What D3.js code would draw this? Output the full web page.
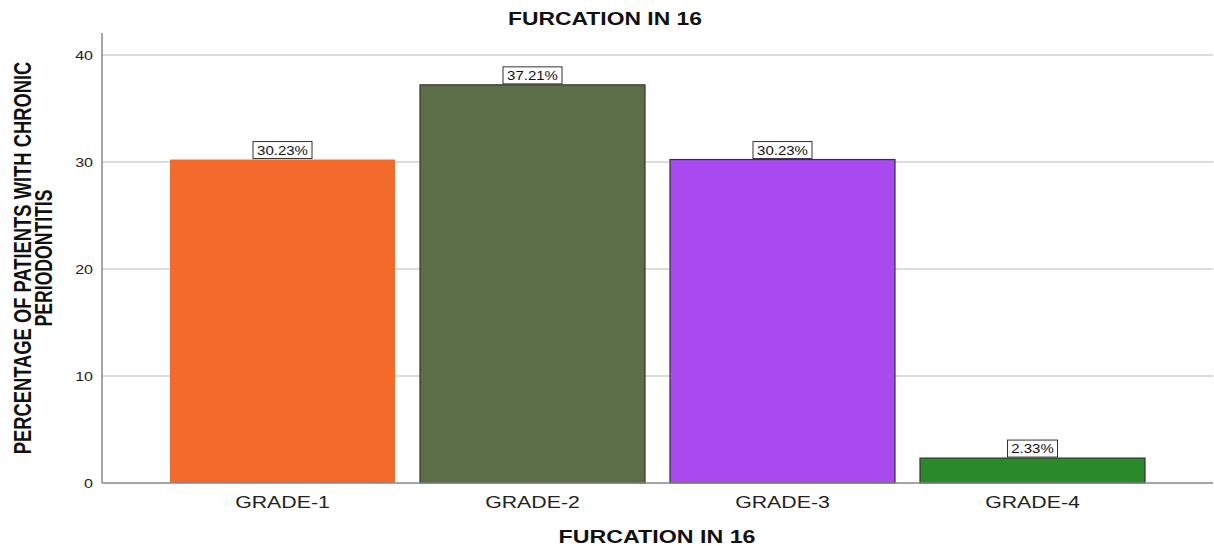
<!DOCTYPE html>
<html><head><meta charset="utf-8">
<script src="https://cdn.jsdelivr.net/npm/d3@7"></script>
<style>body{margin:0;background:#fff}svg{display:block}text{font-family:"Liberation Sans",Arial,sans-serif}</style>
</head><body>
<svg id="c" width="1214" height="546"></svg>
<script>
const categories = ["GRADE-1","GRADE-2","GRADE-3","GRADE-4"];
const values = [30.23, 37.21, 30.23, 2.33];
const labels = ["30.23%","37.21%","30.23%","2.33%"];
const colors = ["#F26A2C","#5B6E48","#A94AF0","#2A8A2A"];
const strokes = ["none","#333","#333","#333"];
const yTicks = [0,10,20,30,40];
const title = "FURCATION IN 16";
const xTitle = "FURCATION IN 16";
const yTitle = ["PERCENTAGE OF PATIENTS WITH CHRONIC","PERIODONTITIS"];

const svg = d3.select("#c");
const axisLeft = 102, axisRight = 1213, axisTop = 33;
const y = d3.scaleLinear().domain([0,40]).range([483,55]);
const x = d3.scaleBand().domain(categories).range([157.5,1157.5]).paddingInner(0.1).paddingOuter(0.05);

function stretch(sel, f){
  sel.each(function(){ const w = this.getComputedTextLength(); this.setAttribute("textLength", w*f); this.setAttribute("lengthAdjust","spacingAndGlyphs"); });
}

// gridlines
svg.append("g").selectAll("line").data(yTicks.filter(d=>d>0)).join("line")
  .attr("x1",axisLeft).attr("x2",axisRight).attr("y1",d=>y(d)).attr("y2",d=>y(d))
  .attr("stroke","#d0d0d0").attr("stroke-width",1.5);

// y axis
const ya = svg.append("g").attr("transform",`translate(${axisLeft},0)`)
  .call(d3.axisLeft(y).tickValues(yTicks).tickSize(0).tickPadding(9).tickFormat(d3.format("d")));
ya.select(".domain").remove();
ya.selectAll("text").attr("font-size",12.5).attr("fill","#222").call(stretch,1.28);
svg.append("line").attr("x1",axisLeft).attr("x2",axisLeft).attr("y1",axisTop).attr("y2",y(0))
  .attr("stroke","#888").attr("stroke-width",1.5);

// bars
svg.append("g").selectAll("rect").data(categories).join("rect")
  .attr("x",d=>x(d)).attr("width",x.bandwidth())
  .attr("y",(d,i)=>y(values[i])).attr("height",(d,i)=>y(0)-y(values[i]))
  .attr("fill",(d,i)=>colors[i]).attr("stroke",(d,i)=>strokes[i]).attr("stroke-width",1.2);

// x axis
const xa = svg.append("g").attr("transform",`translate(0,${y(0)})`)
  .call(d3.axisBottom(x).tickSize(0).tickPadding(10));
xa.select(".domain").remove();
xa.selectAll("text").attr("font-size",16).attr("fill","#222").attr("dy",15).call(stretch,1.33);
svg.append("line").attr("x1",axisLeft).attr("x2",axisRight).attr("y1",y(0)).attr("y2",y(0))
  .attr("stroke","#888").attr("stroke-width",1.5);

// data labels
const lg = svg.append("g").selectAll("g").data(categories).join("g")
  .attr("transform",(d,i)=>`translate(${x(d)+x.bandwidth()/2},${y(values[i])})`);
lg.append("rect").attr("x",(d,i)=>labels[i].length===6?-29.5:-25).attr("width",(d,i)=>labels[i].length===6?59:50)
  .attr("y",-18).attr("height",17).attr("fill","#fff").attr("stroke","#333").attr("stroke-width",1);
lg.append("text").attr("text-anchor","middle").attr("y",-5).attr("font-size",12.5).attr("fill","#111")
  .text((d,i)=>labels[i]).call(stretch,1.2);

// titles
svg.append("text").attr("x",605).attr("y",25).attr("text-anchor","middle")
  .attr("font-size",18).attr("font-weight","bold").attr("fill","#111").text(title).call(stretch,1.27);
svg.append("text").attr("x",657).attr("y",543).attr("text-anchor","middle")
  .attr("font-size",18).attr("font-weight","bold").attr("fill","#111").text(xTitle).call(stretch,1.29);

// y title: two lines, condensed via a horizontal scale along the text direction
const yLens = [393, 137], yOff = [0, 21];
yTitle.forEach((t,i)=>{
  const g = svg.append("g").attr("transform",`translate(${31+yOff[i]},258) rotate(-90)`);
  const tx = g.append("text").attr("text-anchor","middle").attr("font-size",23)
    .attr("font-weight","bold").attr("fill","#111").text(t);
  const w = tx.node().getComputedTextLength();
  tx.attr("transform",`scale(${yLens[i]/w},1)`);
});
</script>
</body></html>
